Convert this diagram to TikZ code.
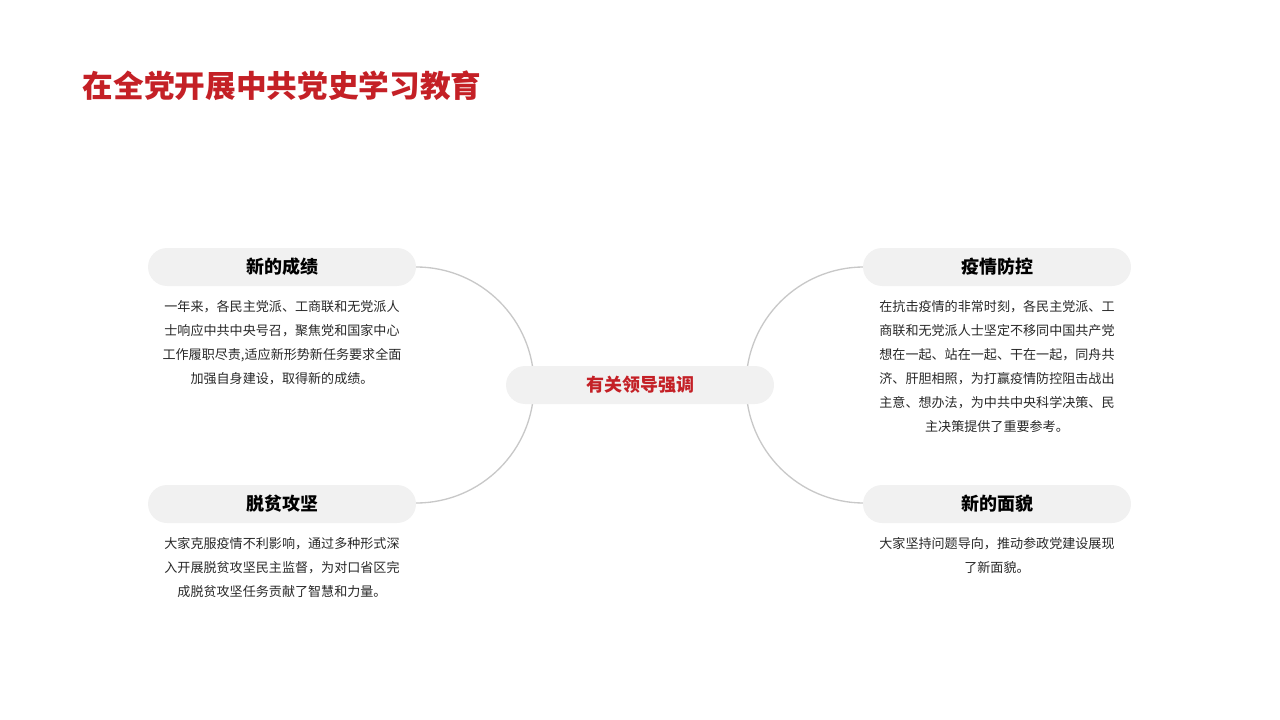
\documentclass[tikz,border=0pt]{standalone}
\usepackage{fontspec}
\setmainfont{Noto Sans CJK SC}
\usetikzlibrary{positioning}
\definecolor{titlered}{RGB}{196,32,38}
\definecolor{pillgray}{RGB}{241,241,241}
\definecolor{arcgray}{RGB}{200,200,200}
\definecolor{bodygray}{RGB}{40,40,40}

\begin{document}
\begin{tikzpicture}[x=0.75pt, y=-0.75pt,
    pill/.style={fill=pillgray, rounded corners=14.25pt, minimum width=201pt,
      minimum height=28.5pt, font=\fontsize{13.5}{16}\selectfont\bfseries},
    body/.style={align=center, text=bodygray, font=\fontsize{9.8}{18}\selectfont,
      anchor=north}]

\useasboundingbox (0,0) rectangle (1280,720);

% arcs ---
\draw [arcgray, line width=1pt] (416,267) arc (-90:90:118);
\draw [arcgray, line width=1pt] (864,267) arc (270:90:118);

% title ---
\node [anchor=west, text=titlered, font=\fontsize{23}{28}\selectfont\bfseries] (title) at (78,86) {在全党开展中共党史学习教育};

% nodes ---
\node [pill, text=titlered] (center) at (640,385) {有关领导强调};
\node [pill] (score) at (282,267) {新的成绩};
\node [pill] (epidemic) at (997,267) {疫情防控};
\node [pill] (poverty) at (282,504) {脱贫攻坚};
\node [pill] (look) at (997,504) {新的面貌};

\node [body] (scoretxt) at (282,296) {一年来，各民主党派、工商联和无党派人\\士响应中共中央号召，聚焦党和国家中心\\工作履职尽责,适应新形势新任务要求全面\\加强自身建设，取得新的成绩。};
\node [body] (epidemictxt) at (997,296) {在抗击疫情的非常时刻，各民主党派、工\\商联和无党派人士坚定不移同中国共产党\\想在一起、站在一起、干在一起，同舟共\\济、肝胆相照，为打赢疫情防控阻击战出\\主意、想办法，为中共中央科学决策、民\\主决策提供了重要参考。};
\node [body] (povertytxt) at (282,533) {大家克服疫情不利影响，通过多种形式深\\入开展脱贫攻坚民主监督，为对口省区完\\成脱贫攻坚任务贡献了智慧和力量。};
\node [body] (looktxt) at (997,533) {大家坚持问题导向，推动参政党建设展现\\了新面貌。};

\end{tikzpicture}
\end{document}
